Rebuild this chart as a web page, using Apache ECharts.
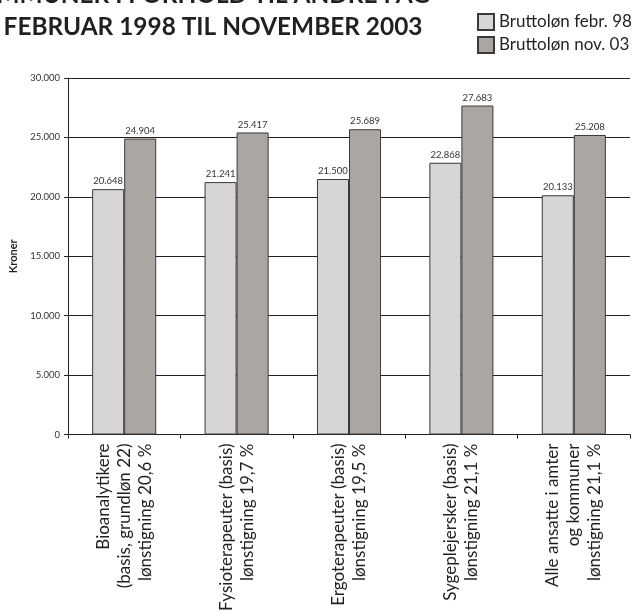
<!DOCTYPE html>
<html>
<head>
<meta charset="utf-8">
<style>
  html, body { margin: 0; padding: 0; background: #fff; }
  #chart { width: 636px; height: 614px; }
</style>
<script src="https://cdn.jsdelivr.net/npm/echarts@6/dist/echarts.min.js"></script>
</head>
<body>
<div id="chart"></div>
<script>
// Gross monthly pay by profession, Feb 1998 vs Nov 2003
const categories = [
  'Bioanalytikere\n(basis, grundløn 22)\nlønstigning 20,6 %',
  'Fysioterapeuter (basis)\nlønstigning 19,7 %',
  'Ergoterapeuter (basis)\nlønstigning 19,5 %',
  'Sygeplejersker (basis)\nlønstigning 21,1 %',
  'Alle ansatte i amter\nog kommuner\nlønstigning 21,1 %'
];
const seriesNames = ['Bruttoløn febr. 98', 'Bruttoløn nov. 03'];
const pay1998 = [20648, 21241, 21500, 22868, 20133];
const pay2003 = [24904, 25417, 25689, 27683, 25208];
const titleLines = ['KOMMUNER I FORHOLD TIL ANDRE FAG-', 'FEBRUAR 1998 TIL NOVEMBER 2003'];
const yAxisName = 'Kroner';

const FONT = 'Lato';
const fmt = v => String(Math.round(v)).replace(/\B(?=(\d{3})+(?!\d))/g, '.');

const chart = echarts.init(document.getElementById('chart'), null, { renderer: 'canvas' });

function barSeries(name, data, color) {
  return {
    name: name,
    type: 'bar',
    data: data,
    barGap: '0%',
    barCategoryGap: '43%',
    itemStyle: { color: color, borderColor: '#3a3a3a', borderWidth: 1 },
    label: {
      show: true,
      position: 'top',
      distance: 3,
      fontFamily: FONT,
      fontSize: 9.5,
      color: '#333',
      formatter: p => fmt(p.value)
    },
    emphasis: { disabled: true }
  };
}

chart.setOption({
  animation: false,
  backgroundColor: '#fff',
  textStyle: { fontFamily: FONT },
  graphic: [
    {
      type: 'text',
      x: 200, y: -5,
      style: {
        text: titleLines[0],
        font: 'bold 24.4px ' + FONT,
        fill: '#231f20',
        align: 'center',
        verticalAlign: 'middle'
      }
    },
    {
      type: 'text',
      x: 213, y: 27,
      style: {
        text: titleLines[1],
        font: 'bold 24.4px ' + FONT,
        fill: '#231f20',
        align: 'center',
        verticalAlign: 'middle'
      }
    }
  ],
  legend: {
    orient: 'vertical',
    left: 472,
    top: 8,
    itemWidth: 16,
    itemHeight: 16,
    itemGap: 5,
    icon: 'rect',
    textStyle: { fontFamily: FONT, fontSize: 17, color: '#231f20', padding: [0, 0, 0, 0] },
    data: seriesNames
  },
  grid: { left: 68, right: 6, top: 78, bottom: 178, containLabel: false },
  xAxis: {
    type: 'category',
    data: categories,
    axisLine: { lineStyle: { color: '#231f20', width: 1 } },
    axisTick: { show: true, length: 4, lineStyle: { color: '#231f20' } },
    axisLabel: {
      rotate: 90,
      interval: 0,
      margin: 9,
      fontFamily: FONT,
      fontSize: 17,
      lineHeight: 21,
      color: '#231f20'
    }
  },
  yAxis: {
    type: 'value',
    min: 0,
    max: 30000,
    interval: 5000,
    name: yAxisName,
    nameLocation: 'middle',
    nameGap: 47,
    nameTextStyle: { fontFamily: FONT, fontSize: 11, fontWeight: 'bold', color: '#231f20' },
    axisLine: { show: true, lineStyle: { color: '#231f20', width: 1 } },
    axisTick: { show: true, length: 4, lineStyle: { color: '#231f20' } },
    axisLabel: {
      margin: 8,
      fontFamily: FONT,
      fontSize: 9.5,
      color: '#333',
      formatter: v => fmt(v)
    },
    splitLine: { show: true, lineStyle: { color: '#231f20', width: 1 } }
  },
  series: [
    barSeries(seriesNames[0], pay1998, '#d7d5d5'),
    barSeries(seriesNames[1], pay2003, '#aca6a2')
  ]
});
</script>
</body>
</html>
